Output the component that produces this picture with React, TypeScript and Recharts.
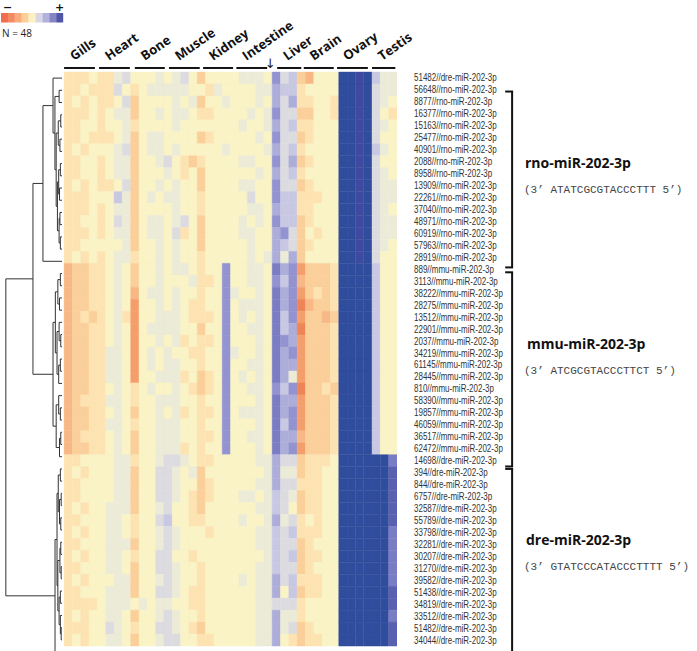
import React from 'react';
import { ComposedChart, Bar, Cell, XAxis, YAxis, ReferenceLine } from 'recharts';

// ---------- data ----------
const tissues = ['Gills', 'Heart', 'Bone', 'Muscle', 'Kidney', 'Intestine', 'Liver', 'Brain', 'Ovary', 'Testis'];
// label underline spans, in heatmap column units
const tissueSpans: [number, number][] = [
  [0, 3.7], [4.2, 7.9], [8.5, 12.1], [12.6, 16.3], [16.7, 20.3],
  [20.7, 24.4], [25.6, 28.5], [28.8, 32.4], [32.8, 36.5], [37.0, 39.8],
];
const arrowCol = 24.75;

const rnoLabels = [
  '51482//dre-miR-202-3p', '56648//rno-miR-202-3p', '8877//rno-miR-202-3p', '16377//rno-miR-202-3p',
  '15163//rno-miR-202-3p', '25477//rno-miR-202-3p', '40901//rno-miR-202-3p', '2088//rno-miR-202-3p',
  '8958//rno-miR-202-3p', '13909//rno-miR-202-3p', '22261//rno-miR-202-3p', '37040//rno-miR-202-3p',
  '48971//rno-miR-202-3p', '60919//rno-miR-202-3p', '57963//rno-miR-202-3p', '28919//rno-miR-202-3p',
];
const mmuLabels = [
  '889//mmu-miR-202-3p', '3113//mmu-miR-202-3p', '38222//mmu-miR-202-3p', '28275//mmu-miR-202-3p',
  '13512//mmu-miR-202-3p', '22901//mmu-miR-202-3p', '2037//mmu-miR-202-3p', '34219//mmu-miR-202-3p',
  '61145//mmu-miR-202-3p', '28445//mmu-miR-202-3p', '810//mmu-miR-202-3p', '58390//mmu-miR-202-3p',
  '19857//mmu-miR-202-3p', '46059//mmu-miR-202-3p', '36517//mmu-miR-202-3p', '62472//mmu-miR-202-3p',
];
const dreLabels = [
  '14698//dre-miR-202-3p', '394//dre-miR-202-3p', '844//dre-miR-202-3p', '6757//dre-miR-202-3p',
  '32587//dre-miR-202-3p', '55789//dre-miR-202-3p', '33798//dre-miR-202-3p', '32281//dre-miR-202-3p',
  '30207//dre-miR-202-3p', '31270//dre-miR-202-3p', '39582//dre-miR-202-3p', '51438//dre-miR-202-3p',
  '34819//dre-miR-202-3p', '33512//dre-miR-202-3p', '51482//dre-miR-202-3p', '34044//dre-miR-202-3p',
];

// expression level per cell, hex digit: 0 = most down (red) ... 5 = neutral ... e = most up (navy)
// column groups: Gills4 Heart4 Bone4 Muscle4 Kidney4 Intestine5 Liver3 Brain5 Ovary4 Testis3
const rnoRows = [
  '4445 4467 5556 5675 3555 56665 a78 32555 eede 866',
  '4454 4475 4566 6665 5465 55566 988 45555 eede 766',
  '4545 4457 3555 5656 3556 55565 979 44554 eede 765',
  '4445 4566 3556 5665 4455 55656 a77 33554 eede 754',
  '4455 4556 4555 5655 5555 56556 978 44555 eede 765',
  '4454 4456 3566 5555 3455 55565 a77 34555 eede 755',
  '4545 5567 3566 5655 5556 55556 978 45555 eede 865',
  '4455 4566 3556 7543 4555 56655 a79 34555 eede 755',
  '4455 4566 3555 6545 3555 55565 978 45555 eede 765',
  '4545 4457 3556 5655 3555 56655 a77 34555 eede 766',
  '4445 5586 3565 6655 4555 55755 a88 44455 eede 766',
  '4445 4566 3555 5655 4555 55665 988 44555 eede 765',
  '4455 4576 3566 5675 3555 56565 a88 34555 eede 766',
  '4445 4566 3566 5745 3555 56655 9a7 35455 eede 766',
  '4455 5556 3556 5655 3555 55655 987 34555 eede 765',
  '4545 4566 4556 5655 4555 55656 969 35555 eede 755',
];
const mmuRows = [
  '2334 4565 3556 5665 455a 55665 b9a 13334 eeee 855',
  '2334 4565 3556 5556 445a 55665 a8a 23334 eeee 855',
  '2334 4565 2566 5655 455a 65565 b9a 13434 eeee 855',
  '2334 4565 1556 5654 455a 56665 b9a 02334 eeee 855',
  '2343 4564 1556 6654 445a 56565 b8a 13323 eeee 855',
  '2334 4565 1566 6655 355a 55665 b89 03334 eeee 855',
  '2334 4565 1556 5645 445a 55565 ba9 13334 eeee 855',
  '2334 4665 1565 6554 455a 65565 b9a 13334 eeee 855',
  '2334 4665 1565 6655 455a 55665 b99 13334 eeee 855',
  '2334 4665 1556 6645 345a 56565 b96 13334 eeee 855',
  '2334 4565 4565 5654 345a 55665 a8a 03343 eeee 855',
  '2344 4665 4556 6655 455a 55565 b99 13334 eeee 855',
  '2334 4565 3556 5645 445a 56665 b9a 13334 eeee 855',
  '2334 4665 4556 6655 455a 55565 b8a 13334 eeee 855',
  '2344 4565 3556 6655 445a 55665 b99 23334 eeee 855',
  '2334 4565 3556 6645 455a 55565 b9a 13334 eeee 855',
];
const dreRows = [
  '4455 5566 4556 7765 4455 55566 977 34445 eeee eeb',
  '4545 5566 3557 7656 3555 55556 966 34455 eeee eec',
  '4455 5566 3557 7655 3455 55566 977 44455 eeee eec',
  '4455 5566 3557 7654 3455 56656 876 34455 eeee eec',
  '4545 5666 3556 7554 3555 55566 875 34455 eeee eec',
  '4455 5665 4557 8554 4555 56556 967 45455 eeee eec',
  '4545 5665 4556 7655 5455 55566 878 44455 eeee eeb',
  '4455 5666 3556 7655 5555 55566 877 34555 eeee eeb',
  '4545 5665 4557 7554 5555 55556 878 34455 eeee eeb',
  '4455 5665 3557 7655 4555 55566 877 34555 eeee eeb',
  '4545 5566 3556 7655 4555 56566 978 44455 eeee eeb',
  '4455 5666 3557 7654 4555 55566 958 34455 eeee eec',
  '4444 5666 5656 6554 4555 55566 777 45555 eeee eec',
  '4545 5665 3556 7655 4555 55566 966 45555 eeee eeb',
  '4445 5765 4557 7654 3555 55566 967 34555 eeee eec',
  '4545 5665 3556 7755 4455 55566 954 34455 eeee eec',
];

const palette = [
  '#ef8456', '#f49e6c', '#f8b886', '#fbcf99', '#fde3b1', '#faf3c5', '#ecebd7', '#dcdce0',
  '#c8c8e3', '#adadda', '#9393d1', '#7b7dc4', '#5a60b0', '#3d4aa0', '#2f4d9c',
];
const legendColors = ['#f26d4f', '#f48a62', '#f9ab7c', '#fdcf97', '#fbf1c2', '#d9d7e6', '#b1b1d9', '#8585c3', '#5156a8'];

const groups = [
  { name: 'rno-miR-202-3p', seq: '(3\u2019 ATATCGCGTACCCTTT 5\u2019)', span: [1.6, 16.0] },
  { name: 'mmu-miR-202-3p', seq: '(3\u2019 ATCGCGTACCCTTCT 5\u2019)', span: [16.4, 32.3] },
  { name: 'dre-miR-202-3p', seq: '(3\u2019 GTATCCCATACCCTTTT 5\u2019)', span: [32.5, 47.5] },
];

type DNode = number | [DNode, DNode, number];
// row clustering: [left, right, merge height]
const dendroTree: DNode = [
  [
    [
      [0, [[1, 2, 0.35], [[[3, 4, 0.15], [5, 6, 0.25], 0.45], [[[7, 8, 0.2], [9, 10, 0.3], 0.4], [[11, 12, 0.25], [13, 14, 0.2], 0.35], 0.55], 0.7], 0.85], 1.08],
      15,
      2.29,
    ],
    [
      [[[16, 17, 0.2], [18, 19, 0.3], 0.5], [[20, [21, 22, 0.15], 0.35], [[23, 24, 0.2], 25, 0.4], 0.6], 0.8],
      [[26, [27, 28, 0.2], 0.4], [[29, 30, 0.15], 31, 0.3], 0.7],
      1.08,
    ],
    3.49,
  ],
  [
    [[[32, 33, 0.2], [[34, 35, 0.1], [36, 37, 0.15], 0.3], 0.45], [[[38, 39, 0.15], [40, 41, 0.1], 0.25], [[42, 43, 0.2], [44, [45, 46, 0.1], 0.2], 0.35], 0.5], 0.6],
    47,
    0.84,
  ],
  6.75,
];

// ---------- derived ----------
const NCOL = 40;
const labels = [...rnoLabels, ...mmuLabels, ...dreLabels];
const levels = [...rnoRows, ...mmuRows, ...dreRows].map((s) => s.replace(/ /g, '').split('').map((ch) => parseInt(ch, 16) - 5));
const cols = Array.from({ length: NCOL }, (_, c) => c);
const data = labels.map((lab, i) => {
  const o: any = { key: 'r' + i, label: lab };
  cols.forEach((c) => { o['c' + c] = 1; });
  return o;
});
const colorOf = (v: number) => palette[v + 5];

const LEAF_X = -0.25;
type Seg = [[number, number], [number, number]];
const dendroSegs: Seg[] = [];
function walk(n: DNode): { pos: number; h: number } {
  if (typeof n === 'number') return { pos: n + 0.5, h: 0 };
  const a = walk(n[0]);
  const b = walk(n[1]);
  const h = n[2];
  const x = LEAF_X - h;
  dendroSegs.push([[x, a.pos], [x, b.pos]]);
  dendroSegs.push([[x, a.pos], [LEAF_X - a.h, a.pos]]);
  dendroSegs.push([[x, b.pos], [LEAF_X - b.h, b.pos]]);
  return { pos: (a.pos + b.pos) / 2, h };
}
walk(dendroTree);

const xTicks = [...tissueSpans.map((s) => s[0]), arrowCol];

const TissueTick = (props: any) => {
  const { x, y, index } = props;
  if (index >= tissues.length) {
    return (
      <text x={x} y={y - 4} textAnchor="middle" fontSize={13} fill="#222" fontFamily="DejaVu Sans, sans-serif">
        {'\u2193'}
      </text>
    );
  }
  const tx = x + 10;
  const ty = y - 11;
  return (
    <text
      x={tx}
      y={ty}
      transform={`rotate(-35, ${tx}, ${ty})`}
      fontSize={13}
      fontWeight={700}
      fill="#111"
      fontFamily="'Open Sans', sans-serif"
    >
      {tissues[index]}
    </text>
  );
};

const RowTick = (props: any) => {
  const { x, y, index } = props;
  return (
    <g transform={`translate(${x + 17}, ${y}) scale(0.8, 1)`}>
      <text x={0} y={0} dy={3.5} fontSize={10} fill="#333" fontFamily="'Liberation Sans', Arial, sans-serif">
        {labels[index]}
      </text>
    </g>
  );
};

export default function App() {
  return (
    <div style={{ position: 'absolute', left: 0, top: 0, width: 697, height: 651, background: '#fff' }}>
      <ComposedChart
        width={697}
        height={651}
        data={data}
        layout="vertical"
        margin={{ top: 52, right: 0, bottom: 5, left: 5 }}
        barCategoryGap={0}
        barGap={0}
      >
        <XAxis
          type="number"
          orientation="top"
          domain={[-7.1, 40]}
          ticks={xTicks}
          interval={0}
          height={20}
          axisLine={false}
          tickLine={false}
          tickSize={0}
          tickMargin={0}
          tick={<TissueTick />}
          allowDataOverflow
        />
        <YAxis
          yAxisId="cat"
          type="category"
          dataKey="key"
          orientation="right"
          width={300}
          axisLine={false}
          tickLine={false}
          tickSize={0}
          tickMargin={0}
          interval={0}
          tick={<RowTick />}
        />
        <YAxis yAxisId="num" type="number" domain={[0, 48]} hide allowDataOverflow />
        {cols.map((c) => (
          <Bar key={c} yAxisId="cat" dataKey={'c' + c} stackId="h" isAnimationActive={false}>
            {levels.map((row, r) => (
              <Cell key={r} fill={colorOf(row[c])} stroke={colorOf(row[c])} strokeWidth={0.4} />
            ))}
          </Bar>
        ))}
        {dendroSegs.map((s, i) => (
          <ReferenceLine
            key={'d' + i}
            yAxisId="num"
            segment={[{ x: s[0][0], y: s[0][1] }, { x: s[1][0], y: s[1][1] }]}
            stroke="#333"
            strokeWidth={1}
            ifOverflow="visible"
          />
        ))}
        {tissueSpans.map((s, i) => (
          <ReferenceLine
            key={'u' + i}
            yAxisId="num"
            segment={[{ x: s[0], y: -0.33 }, { x: s[1], y: -0.33 }]}
            stroke="#111"
            strokeWidth={2}
            ifOverflow="visible"
          />
        ))}
        {groups.map((g, i) => (
          <ReferenceLine
            key={'bv' + i}
            yAxisId="num"
            segment={[{ x: 53.83, y: g.span[0] }, { x: 53.83, y: g.span[1] }]}
            stroke="#111"
            strokeWidth={2}
            ifOverflow="visible"
          />
        ))}
        {groups.map((g, i) => (
          <ReferenceLine
            key={'bt' + i}
            yAxisId="num"
            segment={[{ x: 53.0, y: g.span[0] }, { x: 53.95, y: g.span[0] }]}
            stroke="#111"
            strokeWidth={2}
            ifOverflow="visible"
          />
        ))}
        {groups.map((g, i) => (
          <ReferenceLine
            key={'bb' + i}
            yAxisId="num"
            segment={[{ x: 53.0, y: g.span[1] }, { x: 53.95, y: g.span[1] }]}
            stroke="#111"
            strokeWidth={2}
            ifOverflow="visible"
          />
        ))}
      </ComposedChart>
      <svg
        width={697}
        height={651}
        style={{ position: 'absolute', left: 0, top: 0, pointerEvents: 'none' }}
      >
        {legendColors.map((c, i) => (
          <rect key={i} x={1 + i * 6.9} y={13} width={7} height={9.5} fill={c} />
        ))}
        <text x={3} y={11} fontSize={11} fontWeight={700} fontFamily="'DejaVu Sans', sans-serif" fill="#111">{'\u2212'}</text>
        <text x={55} y={11} fontSize={11} fontWeight={700} fontFamily="'DejaVu Sans', sans-serif" fill="#111">+</text>
        <text x={2} y={37} fontSize={10} fontFamily="'Open Sans', sans-serif" fill="#222">N = 48</text>
        {groups.map((g, i) => {
          const ys = [168, 349, 545];
          const xs = [525, 527, 526];
          return (
            <g key={i}>
              <text x={xs[i]} y={ys[i]} fontSize={14} fontWeight={700} fontFamily="'Open Sans', sans-serif" fill="#111">
                {g.name}
              </text>
              <text x={524} y={ys[i] + 25} fontSize={11} fontFamily="'Liberation Mono', monospace" fill="#444">
                {g.seq}
              </text>
            </g>
          );
        })}
      </svg>
    </div>
  );
}
